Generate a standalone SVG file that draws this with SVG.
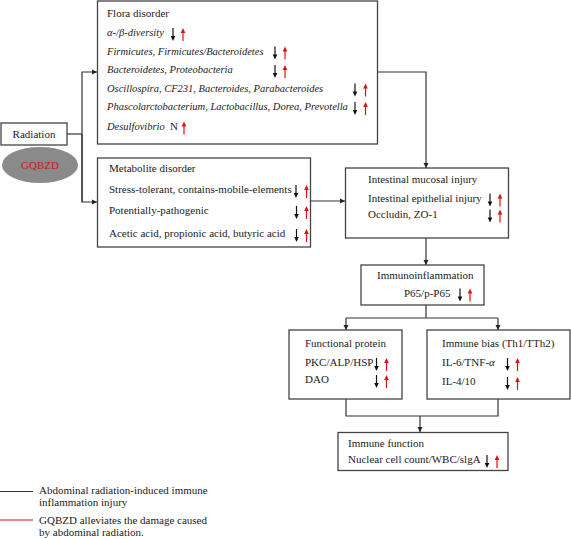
<svg xmlns="http://www.w3.org/2000/svg" xmlns:xlink="http://www.w3.org/1999/xlink" width="571" height="539" viewBox="0 0 571 539">
<style>
.box{fill:#fff;stroke:#444;stroke-width:1.3}
.t{font-family:"Liberation Serif","Times New Roman",serif;font-size:11px;fill:#222}
.i{font-style:italic;font-size:10.5px}
.c{fill:none;stroke:#333;stroke-width:1.2}
</style>
<defs>
<marker id="ah" markerWidth="6" markerHeight="6" refX="5" refY="3" orient="auto" markerUnits="userSpaceOnUse">
<path d="M0,0.5 L5,3 L0,5.5 Z" fill="#222"/>
</marker>
<g id="dn"><line x1="0" y1="-8" x2="0" y2="1" stroke="#111" stroke-width="1.2"/><path d="M-2.3,0 L2.3,0 L0,5 Z" fill="#111"/></g>
<g id="up"><line x1="0" y1="-4" x2="0" y2="5" stroke="#e01010" stroke-width="1.2"/><path d="M-2.3,-3 L2.3,-3 L0,-8 Z" fill="#e01010"/></g>
</defs>

<g id="connectors">
<polyline class="c" points="67,134 82,134"/>
<polyline class="c" points="82,202 82,72 97,72" marker-end="url(#ah)"/>
<polyline class="c" points="82,134 82,202 97,202" marker-end="url(#ah)"/>
<polyline class="c" points="377,72 426,72 426,168" marker-end="url(#ah)"/>
<polyline class="c" points="311,201 345,201" marker-end="url(#ah)"/>
<polyline class="c" points="426,238 426,265" marker-end="url(#ah)"/>
<polyline class="c" points="426,305 426,318"/>
<polyline class="c" points="346,318 498,318"/>
<polyline class="c" points="346,318 346,330" marker-end="url(#ah)"/>
<polyline class="c" points="498,318 498,330" marker-end="url(#ah)"/>
<polyline class="c" points="346,399 346,416 498,416 498,399"/>
<polyline class="c" points="420,416 420,432" marker-end="url(#ah)"/>
</g>

<g id="radiation">
<rect class="box" x="1" y="123" width="66" height="22"/>
<text class="t" x="34" y="137.5" text-anchor="middle">Radiation</text>
</g>
<g id="gqbzd">
<ellipse cx="40" cy="165" rx="38" ry="18" fill="#8a8a8a"/>
<text class="t" x="40" y="169" text-anchor="middle" style="fill:#cc1a1a">GQBZD</text>
</g>

<g id="flora">
<rect class="box" x="97.5" y="1" width="280" height="143"/>
<text class="t" x="107" y="17">Flora disorder</text>
<text class="t i" x="107" y="36">α-/β-diversity</text>
<use xlink:href="#dn" x="173" y="36"/><use xlink:href="#up" x="183" y="36"/>
<text class="t i" x="107" y="54.5">Firmicutes, Firmicutes/Bacteroidetes</text>
<use xlink:href="#dn" x="275" y="54.5"/><use xlink:href="#up" x="285" y="54.5"/>
<text class="t i" x="107" y="73">Bacteroidetes, Proteobacteria</text>
<use xlink:href="#dn" x="275" y="73"/><use xlink:href="#up" x="285" y="73"/>
<text class="t i" x="107" y="91.5">Oscillospira, CF231, Bacteroides, Parabacteroides</text>
<use xlink:href="#dn" x="355" y="91.5"/><use xlink:href="#up" x="365.5" y="91.5"/>
<text class="t i" x="107" y="110">Phascolarctobacterium, Lactobacillus, Dorea, Prevotella</text>
<use xlink:href="#dn" x="355" y="110"/><use xlink:href="#up" x="365.5" y="110"/>
<text class="t i" x="107" y="129.5">Desulfovibrio</text>
<text class="t" x="170" y="129.5">N</text>
<use xlink:href="#up" x="184" y="129.5"/>
</g>

<g id="metabolite">
<rect class="box" x="97.5" y="158" width="213" height="89"/>
<text class="t" x="109" y="172">Metabolite disorder</text>
<text class="t" x="109" y="193">Stress-tolerant, contains-mobile-elements</text>
<use xlink:href="#dn" x="296" y="193"/><use xlink:href="#up" x="306.5" y="193"/>
<text class="t" x="109" y="214">Potentially-pathogenic</text>
<use xlink:href="#dn" x="296.5" y="214"/><use xlink:href="#up" x="306.5" y="214"/>
<text class="t" x="109" y="237">Acetic acid, propionic acid, butyric acid</text>
<use xlink:href="#dn" x="296.5" y="237"/><use xlink:href="#up" x="306.5" y="237"/>
</g>

<g id="intestinal">
<rect class="box" x="345.5" y="168" width="163" height="70"/>
<text class="t" x="368" y="183">Intestinal mucosal injury</text>
<text class="t" x="368" y="201.5">Intestinal epithelial injury</text>
<use xlink:href="#dn" x="490" y="201.5"/><use xlink:href="#up" x="500" y="201.5"/>
<text class="t" x="368" y="217.5">Occludin, ZO-1</text>
<use xlink:href="#dn" x="490" y="217.5"/><use xlink:href="#up" x="500" y="217.5"/>
</g>

<g id="immunoinflammation">
<rect class="box" x="361" y="265" width="123" height="40"/>
<text class="t" x="377" y="278.5">Immunoinflammation</text>
<text class="t" x="404" y="296.5">P65/p-P65</text>
<use xlink:href="#dn" x="460" y="296.5"/><use xlink:href="#up" x="470" y="296.5"/>
</g>

<g id="functional">
<rect class="box" x="289" y="330" width="113" height="69"/>
<text class="t" x="305" y="347">Functional protein</text>
<text class="t" x="305" y="366">PKC/ALP/HSP</text>
<use xlink:href="#dn" x="376.5" y="366"/><use xlink:href="#up" x="386.5" y="366"/>
<text class="t" x="305" y="383">DAO</text>
<use xlink:href="#dn" x="376.5" y="383"/><use xlink:href="#up" x="386.5" y="383"/>
</g>

<g id="immunebias">
<rect class="box" x="427" y="330" width="143" height="69"/>
<text class="t" x="442" y="347">Immune bias (Th1/TTh2)</text>
<text class="t" x="442" y="366">IL-6/TNF-<tspan font-style="italic">α</tspan></text>
<use xlink:href="#dn" x="507.5" y="366"/><use xlink:href="#up" x="517.5" y="366"/>
<text class="t" x="442" y="385">IL-4/10</text>
<use xlink:href="#dn" x="507.5" y="385"/><use xlink:href="#up" x="517.5" y="385"/>
</g>

<g id="immunefunction">
<rect class="box" x="338" y="432.5" width="170" height="38"/>
<text class="t" x="348" y="447">Immune function</text>
<text class="t" x="348" y="463">Nuclear cell count/WBC/slgA</text>
<use xlink:href="#dn" x="487" y="463"/><use xlink:href="#up" x="497" y="463"/>
</g>

<g id="legend">
<line x1="0" y1="491.5" x2="33" y2="491.5" stroke="#333" stroke-width="1.2"/>
<text class="t" x="39" y="494">Abdominal radiation-induced immune</text>
<text class="t" x="39" y="506">inflammation injury</text>
<line x1="0" y1="520" x2="33" y2="520" stroke="#e01010" stroke-width="1.2"/>
<text class="t" x="39" y="524">GQBZD alleviates the damage caused</text>
<text class="t" x="39" y="536">by abdominal radiation.</text>
</g>
</svg>
